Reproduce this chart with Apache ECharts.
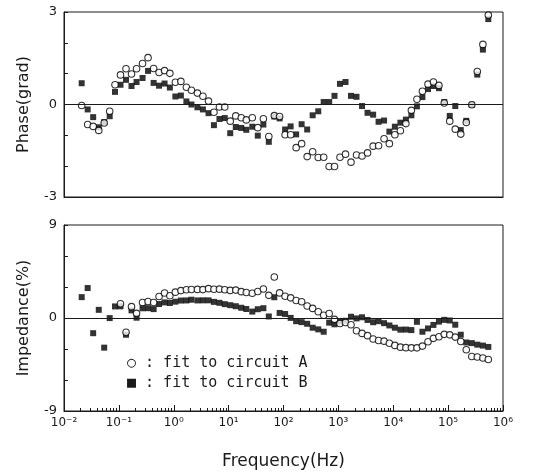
<!DOCTYPE html>
<html>
<head>
<meta charset="utf-8">
<script src="https://cdn.jsdelivr.net/npm/echarts@6/dist/echarts.min.js"></script>
<style>
html,body{margin:0;padding:0;background:#fff;}
#c{width:543px;height:473px;}
</style>
</head>
<body>
<div id="c"></div>
<script>
// Frequencies (Hz), shared by all series
var freq = [0.021,0.027,0.034,0.043,0.054,0.068,0.085,
 0.107,0.135,0.17,0.21,0.27,0.34,0.43,0.54,0.68,0.85,
 1.07,1.35,1.7,2.1,2.7,3.4,4.3,5.4,6.8,8.5,
 10.7,13.5,17,21,27,34,43,54,68,85,
 107,135,170,214,270,340,430,540,680,850,
 1070,1350,1700,2140,2700,3400,4300,5400,6800,8500,
 10700,13500,17000,21400,27000,34000,43000,54000,68000,85000,
 107000,135000,170000,214000,270000,340000,430000,540000];

// Phase (grad)
var phaseA = [-0.03,-0.65,-0.71,-0.84,-0.60,-0.22,0.64,0.96,1.16,0.99,
 1.16,1.33,1.52,1.17,1.04,1.10,1.01,0.72,0.75,0.56,
 0.46,0.37,0.27,0.11,-0.25,-0.08,-0.08,-0.54,-0.37,-0.43,
 -0.50,-0.43,-0.75,-0.46,-1.04,-0.36,-0.39,-0.98,-0.98,-1.40,
 -1.27,-1.69,-1.53,-1.72,-1.71,-2.01,-2.01,-1.71,-1.61,-1.87,
 -1.64,-1.67,-1.57,-1.35,-1.34,-1.11,-1.27,-0.98,-0.85,-0.62,
 -0.19,0.17,0.43,0.66,0.73,0.62,0.05,-0.54,-0.80,-0.96,
 -0.58,-0.01,1.07,1.95,2.90];
var phaseB = [0.69,-0.16,-0.41,-0.74,-0.57,-0.38,0.41,0.64,0.80,0.60,
 0.73,0.86,1.09,0.70,0.61,0.68,0.55,0.26,0.29,0.10,
 0.00,-0.09,-0.16,-0.28,-0.67,-0.47,-0.44,-0.93,-0.73,-0.76,
 -0.82,-0.72,-1.01,-0.65,-1.21,-0.39,-0.45,-0.81,-0.71,-0.97,
 -0.64,-0.81,-0.35,-0.22,0.08,0.08,0.28,0.67,0.73,0.28,
 0.25,-0.05,-0.27,-0.33,-0.56,-0.52,-0.88,-0.72,-0.59,-0.49,
 -0.35,-0.06,0.24,0.50,0.60,0.53,0.08,-0.37,-0.05,-0.83,
 -0.53,-0.01,0.97,1.78,2.77];

// Impedance (%)
var impA = [null,null,null,null,null,null,null,1.38,-1.38,1.10,
 0.45,1.50,1.60,1.50,2.08,2.42,2.16,2.50,2.65,2.73,
 2.76,2.77,2.75,2.84,2.78,2.79,2.73,2.67,2.70,2.55,
 2.47,2.40,2.57,2.80,2.19,3.97,2.43,2.11,1.95,1.69,
 1.57,1.16,0.93,0.61,0.26,0.43,-0.13,-0.53,-0.44,-0.65,
 -1.23,-1.49,-1.71,-2.03,-2.18,-2.24,-2.44,-2.65,-2.82,-2.87,
 -2.89,-2.89,-2.72,-2.30,-1.97,-1.81,-1.58,-1.63,-1.85,-2.27,
 -3.07,-3.72,-3.78,-3.87,-4.02];
var impB = [2.02,2.90,-1.47,0.79,-2.87,-0.01,1.12,1.13,-1.62,0.74,
 0.03,0.94,0.95,0.86,1.35,1.51,1.45,1.58,1.69,1.70,
 1.77,1.70,1.71,1.71,1.56,1.47,1.34,1.24,1.14,0.99,
 0.87,0.62,0.85,0.95,0.15,2.01,0.49,0.39,0.01,-0.31,
 -0.40,-0.56,-0.94,-1.10,-1.33,-0.45,-0.61,-0.34,-0.27,0.12,
 -0.04,0.07,-0.19,-0.41,-0.31,-0.50,-0.72,-0.94,-1.13,-1.12,
 -1.17,-0.37,-1.33,-1.01,-0.67,-0.35,-0.18,-0.24,-0.65,-1.62,
 -2.37,-2.43,-2.58,-2.67,-2.80];

var phaseTicks = [-3, 0, 3];
var impTicks = [-9, 0, 9];
// minor log ticks of the frequency axis (2..9 x 10^n)
var minorTickValues = [];
[0.01,0.1,1,10,100,1000,10000,100000].forEach(function (d) {
  [2,3,4,5,6,7,8,9].forEach(function (m) { minorTickValues.push(+(d * m).toPrecision(3)); });
});
var legendA = '\u25CB : fit to circuit A';
var legendB = '\u25A0 : fit to circuit B';

function pairs(ys) {
  var out = [];
  for (var i = 0; i < freq.length; i++) {
    if (ys[i] !== null && ys[i] !== undefined) out.push([freq[i], ys[i]]);
  }
  return out;
}
var sup = {'-':'\u207B','0':'\u2070','1':'\u00B9','2':'\u00B2','3':'\u00B3','4':'\u2074','5':'\u2075','6':'\u2076','7':'\u2077','8':'\u2078','9':'\u2079'};
function powLabel(v) {
  var e = String(Math.round(Math.log10(v)));
  var s = '';
  for (var i = 0; i < e.length; i++) s += sup[e[i]];
  return '10' + s;
}

var ink = '#1a1a1a';
var font = 'DejaVu Sans';
var zeroLine = {
  silent: true, symbol: 'none', animation: false,
  lineStyle: {color: ink, width: 1, type: 'solid'},
  label: {show: false},
  data: [{yAxis: 0}]
};
var circleStyle = {color: '#fff', borderColor: '#000', borderWidth: 1.1};

var chart = echarts.init(document.getElementById('c'), null, {renderer: 'canvas'});
chart.setOption({
  backgroundColor: '#fff',
  animation: false,
  textStyle: {fontFamily: font, color: ink},
  grid: [
    {left: 64, top: 12, width: 439, height: 185, show: true, borderColor: ink, borderWidth: 1, backgroundColor: 'transparent'},
    {left: 64, top: 225, width: 439, height: 186, show: true, borderColor: ink, borderWidth: 1, backgroundColor: 'transparent'}
  ],
  xAxis: [
    {type: 'log', gridIndex: 0, position: 'bottom', min: 0.01, max: 1e6, logBase: 10,
     axisLine: {show: true, onZero: false, lineStyle: {color: ink}},
     axisTick: {show: false}, axisLabel: {show: false}, splitLine: {show: false}},
    {type: 'log', gridIndex: 1, position: 'bottom', min: 0.01, max: 1e6, logBase: 10,
     name: 'Frequency(Hz)', nameLocation: 'middle', nameGap: 42,
     nameTextStyle: {fontSize: 17, color: ink, fontFamily: font},
     axisLine: {show: true, onZero: false, lineStyle: {color: ink}},
     axisTick: {show: true, inside: true, length: 6, lineStyle: {color: ink, width: 1}},
     axisLabel: {show: true, formatter: powLabel, fontSize: 12, color: ink, margin: 6, fontFamily: font},
     splitLine: {show: false}},
    {type: 'log', gridIndex: 1, position: 'bottom', min: 0.01, max: 1e6, logBase: 10,
     axisLine: {show: false, onZero: false},
     axisTick: {show: true, inside: true, length: 3, customValues: minorTickValues, lineStyle: {color: ink, width: 1}},
     axisLabel: {show: false}, splitLine: {show: false}}
  ],
  yAxis: [
    {type: 'value', gridIndex: 0, min: -3, max: 3, interval: 1,
     name: 'Phase(grad)', nameLocation: 'middle', nameGap: 32,
     nameTextStyle: {fontSize: 16, color: ink, fontFamily: font},
     axisLine: {show: true, onZero: false, lineStyle: {color: ink}},
     axisTick: {show: true, inside: true, length: 4, lineStyle: {color: ink}},
     axisLabel: {fontSize: 13, color: ink, margin: 7,
       formatter: function (v) { return phaseTicks.indexOf(v) >= 0 ? String(v) : ''; }},
     splitLine: {show: false}},
    {type: 'value', gridIndex: 1, min: -9, max: 9, interval: 3,
     name: 'Impedance(%)', nameLocation: 'middle', nameGap: 32,
     nameTextStyle: {fontSize: 16, color: ink, fontFamily: font},
     axisLine: {show: true, onZero: false, lineStyle: {color: ink}},
     axisTick: {show: true, inside: true, length: 4, lineStyle: {color: ink}},
     axisLabel: {fontSize: 13, color: ink, margin: 7,
       formatter: function (v) { return impTicks.indexOf(v) >= 0 ? String(v) : ''; }},
     splitLine: {show: false}}
  ],
  series: [
    {name: 'Phase B', type: 'scatter', xAxisIndex: 0, yAxisIndex: 0, data: pairs(phaseB),
     symbol: 'rect', symbolSize: 6, itemStyle: {color: '#000'}, markLine: zeroLine},
    {name: 'Phase A', type: 'scatter', xAxisIndex: 0, yAxisIndex: 0, data: pairs(phaseA),
     symbol: 'circle', symbolSize: 6.5, itemStyle: circleStyle},
    {name: 'Impedance B', type: 'scatter', xAxisIndex: 1, yAxisIndex: 1, data: pairs(impB),
     symbol: 'rect', symbolSize: 6, itemStyle: {color: '#000'}, markLine: zeroLine},
    {name: 'Impedance A', type: 'scatter', xAxisIndex: 1, yAxisIndex: 1, data: pairs(impA),
     symbol: 'circle', symbolSize: 6.5, itemStyle: circleStyle}
  ],
  graphic: [
    {type: 'text', left: 127, top: 356, style: {text: legendA, font: '15px "DejaVu Sans Mono"', fill: ink}},
    {type: 'text', left: 127, top: 376, style: {text: legendB, font: '15px "DejaVu Sans Mono"', fill: ink}}
  ]
});
</script>
</body>
</html>
